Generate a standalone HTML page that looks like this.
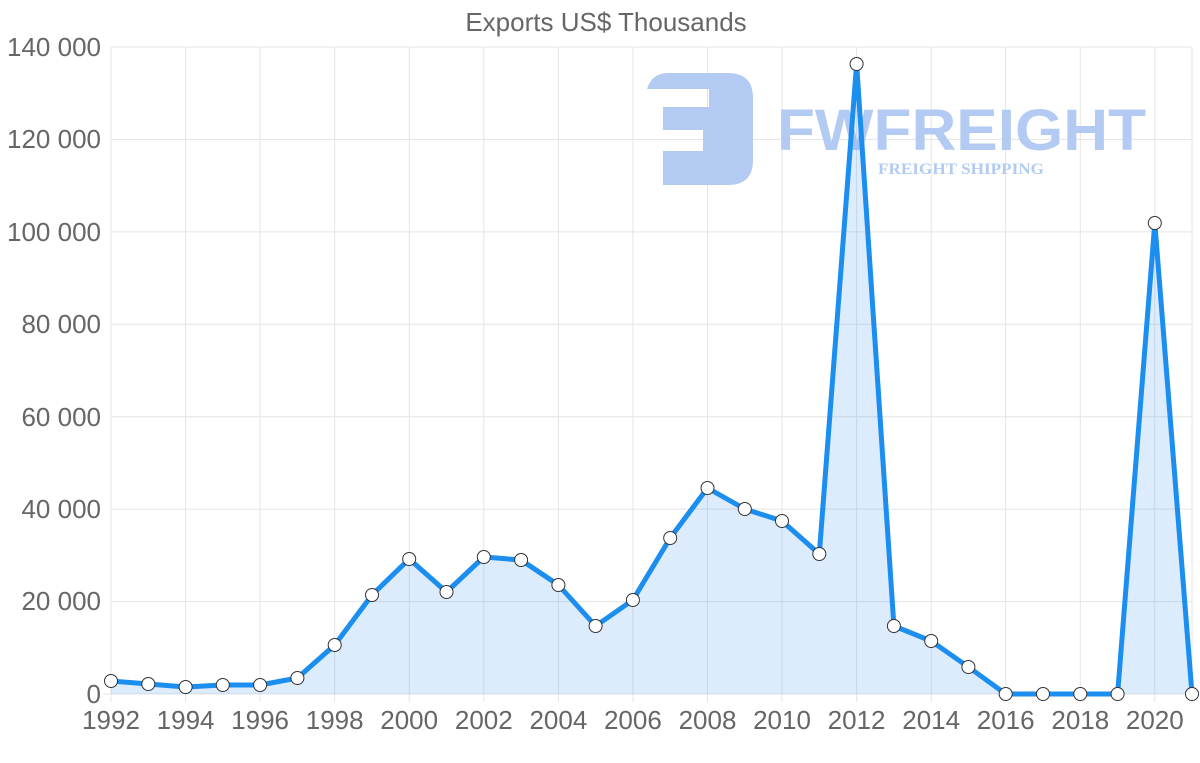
<!DOCTYPE html>
<html><head><style>
html,body{margin:0;padding:0;background:#fff;width:1200px;height:763px;overflow:hidden}
svg{display:block;font-family:"Liberation Sans",sans-serif}
</style></head><body>
<svg width="1200" height="763" viewBox="0 0 1200 763">
<text x="606" y="31" text-anchor="middle" font-size="26" fill="#666">Exports US$ Thousands</text>
<g stroke="#e4e4e4" stroke-width="1">
<line x1="111" y1="47" x2="1192" y2="47"/>
<line x1="111" y1="139.4" x2="1192" y2="139.4"/>
<line x1="111" y1="231.9" x2="1192" y2="231.9"/>
<line x1="111" y1="324.3" x2="1192" y2="324.3"/>
<line x1="111" y1="416.7" x2="1192" y2="416.7"/>
<line x1="111" y1="509.1" x2="1192" y2="509.1"/>
<line x1="111" y1="601.6" x2="1192" y2="601.6"/>
<line x1="103" y1="694" x2="1192" y2="694"/>
<line x1="111" y1="47" x2="111" y2="702"/>
<line x1="185.6" y1="47" x2="185.6" y2="702"/>
<line x1="260.1" y1="47" x2="260.1" y2="702"/>
<line x1="334.7" y1="47" x2="334.7" y2="702"/>
<line x1="409.2" y1="47" x2="409.2" y2="702"/>
<line x1="483.8" y1="47" x2="483.8" y2="702"/>
<line x1="558.4" y1="47" x2="558.4" y2="702"/>
<line x1="632.9" y1="47" x2="632.9" y2="702"/>
<line x1="707.5" y1="47" x2="707.5" y2="702"/>
<line x1="782.0" y1="47" x2="782.0" y2="702"/>
<line x1="856.6" y1="47" x2="856.6" y2="702"/>
<line x1="931.2" y1="47" x2="931.2" y2="702"/>
<line x1="1005.7" y1="47" x2="1005.7" y2="702"/>
<line x1="1080.3" y1="47" x2="1080.3" y2="702"/>
<line x1="1154.8" y1="47" x2="1154.8" y2="702"/>
<line x1="1192" y1="47" x2="1192" y2="702"/>
</g>
<g font-size="26" fill="#666" text-anchor="end">
<text x="101" y="56">140 000</text>
<text x="101" y="148">120 000</text>
<text x="101" y="241">100 000</text>
<text x="101" y="333">80 000</text>
<text x="101" y="426">60 000</text>
<text x="101" y="518">40 000</text>
<text x="101" y="610">20 000</text>
<text x="101" y="703">0</text>
</g>
<g font-size="26" fill="#666" text-anchor="middle">
<text x="111" y="729">1992</text><text x="185.6" y="729">1994</text><text x="260.1" y="729">1996</text>
<text x="334.7" y="729">1998</text><text x="409.2" y="729">2000</text><text x="483.8" y="729">2002</text>
<text x="558.4" y="729">2004</text><text x="632.9" y="729">2006</text><text x="707.5" y="729">2008</text>
<text x="782.0" y="729">2010</text><text x="856.6" y="729">2012</text><text x="931.2" y="729">2014</text>
<text x="1005.7" y="729">2016</text><text x="1080.3" y="729">2018</text><text x="1154.8" y="729">2020</text>
</g>
<!-- watermark -->
<g fill="#b3cbf3">
<path d="M647 89 Q652 73 668 73 H728 Q753 73 753 98 V160 Q753 185 728 185 H663 V151 H703 V130 H663 V107 H709 V89 Z"/>
<text x="777" y="150" font-size="58" font-weight="bold" textLength="369" lengthAdjust="spacingAndGlyphs">FWFREIGHT</text>
<text x="878" y="174" font-size="16" font-weight="bold" font-family="Liberation Serif,serif" textLength="166" lengthAdjust="spacingAndGlyphs">FREIGHT SHIPPING</text>
</g>
<path d="M111,681 L148.3,684 L185.6,687 L222.8,685 L260.1,685 L297.4,678 L334.7,645 L372,595 L409.2,559 L446.5,592 L483.8,557 L521.1,560 L558.4,585 L595.6,626 L632.9,600 L670.2,538 L707.5,488 L744.8,509 L782,521 L819.3,554 L856.6,64 L893.9,626 L931.2,641 L968.4,667 L1005.7,694 L1043,694 L1080.3,694 L1117.6,694 L1154.8,223 L1192,694 L111,694 Z" fill="rgba(80,160,240,0.2)"/>
<polyline points="111,681 148.3,684 185.6,687 222.8,685 260.1,685 297.4,678 334.7,645 372,595 409.2,559 446.5,592 483.8,557 521.1,560 558.4,585 595.6,626 632.9,600 670.2,538 707.5,488 744.8,509 782,521 819.3,554 856.6,64 893.9,626 931.2,641 968.4,667 1005.7,694 1043,694 1080.3,694 1117.6,694 1154.8,223 1192,694" fill="none" stroke="#1b8ef0" stroke-width="5" stroke-linejoin="round"/>
<g fill="#fff" stroke="#333" stroke-width="1">
<circle cx="111" cy="681" r="6.5"/><circle cx="148.3" cy="684" r="6.5"/><circle cx="185.6" cy="687" r="6.5"/>
<circle cx="222.8" cy="685" r="6.5"/><circle cx="260.1" cy="685" r="6.5"/><circle cx="297.4" cy="678" r="6.5"/>
<circle cx="334.7" cy="645" r="6.5"/><circle cx="372" cy="595" r="6.5"/><circle cx="409.2" cy="559" r="6.5"/>
<circle cx="446.5" cy="592" r="6.5"/><circle cx="483.8" cy="557" r="6.5"/><circle cx="521.1" cy="560" r="6.5"/>
<circle cx="558.4" cy="585" r="6.5"/><circle cx="595.6" cy="626" r="6.5"/><circle cx="632.9" cy="600" r="6.5"/>
<circle cx="670.2" cy="538" r="6.5"/><circle cx="707.5" cy="488" r="6.5"/><circle cx="744.8" cy="509" r="6.5"/>
<circle cx="782" cy="521" r="6.5"/><circle cx="819.3" cy="554" r="6.5"/><circle cx="856.6" cy="64" r="6.5"/>
<circle cx="893.9" cy="626" r="6.5"/><circle cx="931.2" cy="641" r="6.5"/><circle cx="968.4" cy="667" r="6.5"/>
<circle cx="1005.7" cy="694" r="6.5"/><circle cx="1043" cy="694" r="6.5"/><circle cx="1080.3" cy="694" r="6.5"/>
<circle cx="1117.6" cy="694" r="6.5"/><circle cx="1154.8" cy="223" r="6.5"/><circle cx="1192" cy="694" r="6.5"/>
</g>
</svg>
</body></html>
